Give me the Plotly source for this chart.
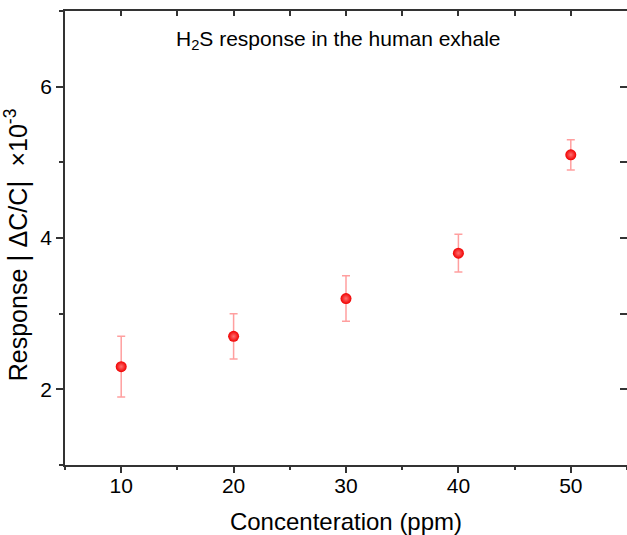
import plotly.graph_objects as go

conc = [10, 20, 30, 40, 50]
response = [2.3, 2.7, 3.2, 3.8, 5.1]
err = [0.4, 0.3, 0.3, 0.25, 0.2]

axis_color = "#333333"
font_family = "Arial, Liberation Sans, sans-serif"

fig = go.Figure()
fig.add_trace(go.Scatter(
    x=conc, y=response, mode="markers",
    marker=dict(size=11, color="#f00000",
                gradient=dict(type="radial", color="#ff7070"),
                line=dict(width=0)),
    error_y=dict(type="data", array=err, visible=True,
                 color="rgba(255,80,80,0.55)", thickness=1.5, width=4),
    showlegend=False,
))
# invisible traces to anchor the extra axes (top/right frame, bottom ticks)
fig.add_trace(go.Scatter(
    x=conc, y=response, xaxis="x2", yaxis="y2", mode="markers",
    marker=dict(opacity=0), hoverinfo="skip", showlegend=False,
))
fig.add_trace(go.Scatter(
    x=conc, y=response, xaxis="x3", yaxis="y", mode="markers",
    marker=dict(opacity=0), hoverinfo="skip", showlegend=False,
))

fig.update_layout(
    width=627, height=535,
    margin=dict(l=65, r=0, t=11, b=70, autoexpand=False),
    paper_bgcolor="white", plot_bgcolor="white",
    font=dict(family=font_family, color="black"),
    xaxis=dict(
        range=[5, 55], tickvals=[10, 20, 30, 40, 50],
        ticks="outside", ticklen=1, tickwidth=1, tickcolor="rgba(0,0,0,0)",
        showline=True, linewidth=1.5, linecolor=axis_color,
        showgrid=False, zeroline=False,
        tickfont=dict(size=21),
        title=dict(text="Concenteration (ppm)", font=dict(size=24), standoff=17),
    ),
    xaxis3=dict(
        overlaying="x", side="bottom", range=[5, 55],
        tickvals=[10, 20, 30, 40, 50],
        ticks="outside", ticklen=7, tickwidth=1.5, tickcolor=axis_color,
        minor=dict(dtick=5, tick0=0, ticks="outside", ticklen=4,
                   tickwidth=1.5, tickcolor=axis_color),
        showticklabels=False, showline=False,
        showgrid=False, zeroline=False,
    ),
    yaxis=dict(
        range=[1, 7], tickvals=[2, 4, 6],
        ticks="outside", ticklen=7, tickwidth=1.5, tickcolor=axis_color,
        minor=dict(dtick=1, tick0=0, ticks="outside", ticklen=4,
                   tickwidth=1.5, tickcolor=axis_color),
        showline=True, linewidth=1.5, linecolor=axis_color,
        showgrid=False, zeroline=False,
        tickfont=dict(size=21),
        title=dict(text="Response <span style='font-size:28px'>|</span>&nbsp;ΔC/C<span style='font-size:28px'>|</span> &nbsp;×10<sup>-3</sup>&nbsp;&nbsp;",
                   font=dict(size=25), standoff=6),
    ),
    xaxis2=dict(
        overlaying="x", side="top", range=[5, 55],
        tickvals=[10, 15, 20, 25, 30, 35, 40, 45, 50],
        ticks="inside", ticklen=5, tickwidth=1.5, tickcolor=axis_color,
        showticklabels=False, showline=True, linewidth=1.5, linecolor=axis_color,
        showgrid=False, zeroline=False,
    ),
    yaxis2=dict(
        overlaying="y", side="right", range=[1, 7],
        tickvals=[2, 3, 4, 5, 6],
        ticks="inside", ticklen=7, tickwidth=1.5, tickcolor=axis_color,
        showticklabels=False, showline=False,
        showgrid=False, zeroline=False,
    ),
    annotations=[dict(
        text="H<sub>2</sub>S response in the human exhale",
        x=0.4875, y=0.936, xref="paper", yref="paper",
        xanchor="center", yanchor="middle", showarrow=False,
        font=dict(size=21, color="black"),
    )],
)

fig.write_html("out.html", config={"displayModeBar": False},
               post_script="document.body.style.margin='0';")
